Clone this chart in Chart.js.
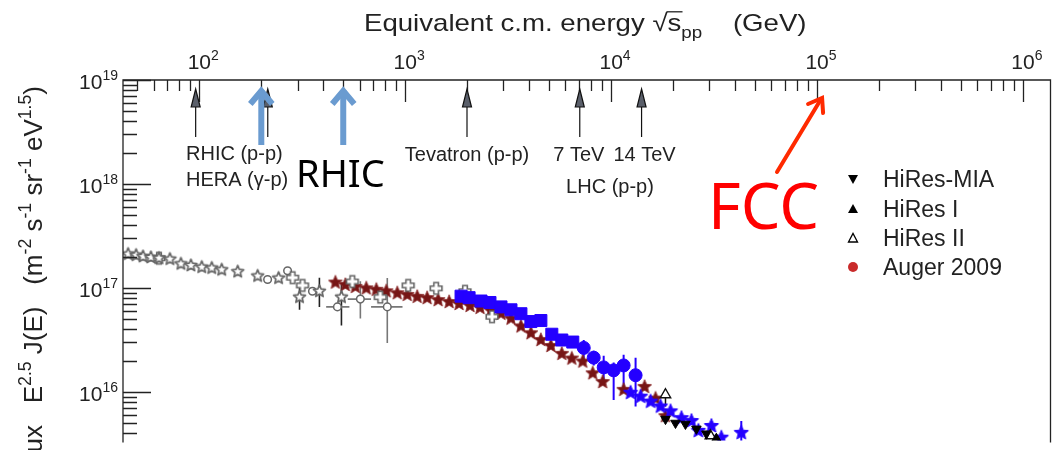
<!DOCTYPE html>
<html>
<head>
<meta charset="utf-8">
<script src="https://cdn.jsdelivr.net/npm/chart.js"></script>
<style>
html, body { margin: 0; padding: 0; background: #fff; }
#wrap { position: relative; width: 1060px; height: 450px; }
</style>
</head>
<body>
<div id="wrap"><canvas id="spectrum"></canvas></div>
<script>
// x: equivalent c.m. energy sqrt(s_pp) in GeV, y: E^2.5 J(E) flux
var grayStarE = [45.1, 49.3, 53.3, 58.2, 63.7, 72.0, 81.4, 91.0, 102.8, 115, 128.5, 153.6, 192, 242.7, 306.7, 383, 490];
var grayStarF = [2.11e17, 2.06e17, 2.00e17, 1.96e17, 1.93e17, 1.89e17, 1.70e17, 1.64e17, 1.58e17, 1.55e17, 1.49e17, 1.43e17, 1.30e17, 1.24e17, 8.14e16, 9.27e16, 8.14e16];
var grayStarLo = [null, null, null, null, null, null, null, null, null, null, null, null, null, null, 6.15e16, 6.56e16, 4.35e16];
var grayStarHi = [null, null, null, null, null, null, null, null, null, null, null, null, null, null, 1.01e17, 1.25e17, 1.08e17];

var grayCrossE = [63.7, 283.7, 317.2, 553.7, 756.6, 1034, 1413, 1952, 2639];
var grayCrossF = [1.93e17, 1.254e17, 1.056e17, 1.151e17, 8.14e16, 1.056e17, 9.89e16, 9.27e16, 5.28e16];

var grayCircE = [214.6, 268.3, 354.4, 468.4, 605.5, 818.2];
var grayCircF = [1.202e17, 1.460e17, 9.27e16, 6.56e16, 7.80e16, 6.56e16];
var grayCircELo = [null, null, null, 413, 525.6, 682.4];
var grayCircEHi = [null, null, null, 535.6, 682.4, 970];
var grayCircLo = [null, null, null, null, 5.06e16, 2.95e16];
var grayCircHi = [null, null, null, null, 1.158e17, 1.246e17];

var darkStarE = [458, 512, 573, 647, 724, 809, 915, 1023, 1143, 1278, 1445, 1634, 1826, 2064, 2308, 2609, 2917, 3262, 3646, 4076, 4557, 5093, 5759, 6438, 7278, 8137, 9096, 11500, 14530, 16430, 18360];
var darkStarF = [1.126e17, 1.067e17, 1.022e17, 9.89e16, 9.58e16, 9.27e16, 8.88e16, 8.56e16, 8.20e16, 7.97e16, 7.63e16, 7.31e16, 7.00e16, 6.71e16, 6.42e16, 6.02e16, 5.64e16, 5.06e16, 4.26e16, 3.66e16, 3.15e16, 2.76e16, 2.32e16, 2.09e16, 1.955e16, 1.508e16, 1.241e16, 1.044e16, 1.114e16, 8.60e15, 5.83e15];

var blueSqE = [1867, 2042, 2333, 2579, 2917, 3262, 3646, 4076, 4557, 5150, 5759, 6511];
var blueSqF = [8.32e16, 8.05e16, 7.47e16, 7.23e16, 6.56e16, 6.15e16, 5.64e16, 4.74e16, 4.85e16, 3.58e16, 3.15e16, 3.01e16];

var blueCircE = [7359, 8228, 9198, 10283, 11497, 13140];
var blueCircF = [2.646e16, 2.131e16, 1.717e16, 1.609e16, 1.793e16, 1.444e16];
var blueCircLo = [1.913e16, 1.793e16, 1.241e16, 8.32e15, 1.011e16, 7.23e15];
var blueCircHi = [3.15e16, 2.48e16, 2.225e16, 1.913e16, 2.274e16, 2.131e16];

var blueStarE = [12430, 13900, 15540, 17370, 19420, 21950, 24540, 26530, 30670, 34290, 42850];
var blueStarF = [9.79e15, 8.98e15, 8.05e15, 7.23e15, 6.49e15, 5.58e15, 5.23e15, 4.21e15, 4.69e15, 3.62e15, 4.03e15];
var blueStarLo = [null, null, null, null, null, null, null, null, null, null, 3.18e15];
var blueStarHi = [null, null, null, null, null, null, null, null, null, null, 5.23e15];

var miaE = [18360, 20530, 22950, 25940, 29000];
var miaF = [5.46e15, 5.01e15, 4.90e15, 4.40e15, 3.95e15];
var hires1E = [32430];
var hires1F = [3.54e15];
var hires2E = [18360, 30330];
var hires2F = [9.37e15, 3.78e15];
var hires2Lo = [7.23e15, null];
var hires2Hi = [1.067e16, null];

var xTickPowers = [2, 3, 4, 5, 6];
var yTickPowers = [16, 17, 18, 19];

// machines marked along the top axis
var machineE = [96, 215, 1995, 7040, 14050];
var rhicE = [200, 500];
var fccE = 1e5;

var legendNames = ['HiRes-MIA', 'HiRes I', 'HiRes II', 'Auger 2009'];

var FONT = '"Liberation Sans", Arial, sans-serif';

function pts(e, f) {
    var out = [];
    for (var i = 0; i < e.length; i++) out.push({x: e[i], y: f[i]});
    return out;
}

function starIcon(r, fill, stroke, lw) {
    var s = Math.ceil(2 * r + lw + 2);
    var c = document.createElement('canvas');
    c.width = c.height = s;
    var g = c.getContext('2d');
    g.translate(s / 2, s / 2);
    g.beginPath();
    for (var i = 0; i < 10; i++) {
        var rr = i % 2 ? r * 0.45 : r;
        var a = -Math.PI / 2 + i * Math.PI / 5;
        g.lineTo(rr * Math.cos(a), rr * Math.sin(a));
    }
    g.closePath();
    g.fillStyle = fill;
    g.fill();
    if (stroke) {
        g.lineWidth = lw;
        g.strokeStyle = stroke;
        g.lineJoin = 'round';
        g.stroke();
    }
    return c;
}

function plusIcon(a, w, fill, stroke) {
    var s = Math.ceil(2 * a + 4);
    var c = document.createElement('canvas');
    c.width = c.height = s;
    var g = c.getContext('2d');
    g.translate(s / 2, s / 2);
    var p = [[-w, -a], [w, -a], [w, -w], [a, -w], [a, w], [w, w], [w, a], [-w, a], [-w, w], [-a, w], [-a, -w], [-w, -w]];
    g.beginPath();
    p.forEach(function (q) { g.lineTo(q[0], q[1]); });
    g.closePath();
    g.fillStyle = fill;
    g.fill();
    g.lineWidth = 1.6;
    g.strokeStyle = stroke;
    g.stroke();
    return c;
}

var GRAY = '#666';
var BLUE = '#2400ff';
var MAROON = '#761515';

var errorBars = {
    id: 'errorBars',
    beforeDatasetsDraw: function (chart) {
        var ctx = chart.ctx, xs = chart.scales.x, ys = chart.scales.y;
        ctx.save();
        ctx.beginPath();
        ctx.rect(chart.chartArea.left, chart.chartArea.top, chart.chartArea.width, chart.chartArea.height);
        ctx.clip();
        chart.data.datasets.forEach(function (ds) {
            if (!ds.errLo && !ds.errXLo) return;
            ctx.strokeStyle = ds.errColor || '#333';
            ctx.lineWidth = ds.errWidth || 1.5;
            ds.data.forEach(function (p, i) {
                var px = xs.getPixelForValue(p.x), py = ys.getPixelForValue(p.y);
                ctx.beginPath();
                if (ds.errLo && ds.errLo[i] != null) {
                    ctx.moveTo(px, ys.getPixelForValue(ds.errLo[i]));
                    ctx.lineTo(px, ys.getPixelForValue(ds.errHi[i]));
                }
                if (ds.errXLo && ds.errXLo[i] != null) {
                    ctx.moveTo(xs.getPixelForValue(ds.errXLo[i]), py);
                    ctx.lineTo(xs.getPixelForValue(ds.errXHi[i]), py);
                }
                ctx.stroke();
            });
        });
        ctx.restore();
    }
};

// draws "10" with a raised exponent; align = 'center' (on the "10") or 'right'
function powerLabel(ctx, p, x, y, align) {
    ctx.font = '21px ' + FONT;
    var w10 = ctx.measureText('10').width;
    ctx.font = '14px ' + FONT;
    var wp = ctx.measureText(String(p)).width;
    var x0 = align === 'right' ? x - w10 - wp : x - w10 / 2;
    ctx.font = '21px ' + FONT;
    ctx.fillText('10', x0, y);
    ctx.font = '14px ' + FONT;
    ctx.fillText(String(p), x0 + w10, y - 9);
}

function drawRuns(ctx, runs, x, y, size) {
    runs.forEach(function (r) {
        var kind = r[1] || '';
        var fs = kind ? size * 0.68 : size;
        var dy = kind === 'sup' ? -size * 0.42 : (kind === 'sub' ? size * 0.3 : 0);
        ctx.font = fs + 'px ' + FONT;
        ctx.fillText(r[0], x, y + dy);
        x += ctx.measureText(r[0]).width;
    });
    return x;
}

function runsWidth(ctx, runs, size) {
    var w = 0;
    runs.forEach(function (r) {
        ctx.font = (r[1] ? size * 0.68 : size) + 'px ' + FONT;
        w += ctx.measureText(r[0]).width;
    });
    return w;
}

var frame = {
    id: 'frame',
    afterDatasetsDraw: function (chart) {
        var ctx = chart.ctx, a = chart.chartArea, xs = chart.scales.x, ys = chart.scales.y;
        ctx.save();
        ctx.strokeStyle = '#222';
        ctx.lineWidth = 1.3;
        ctx.beginPath();
        ctx.moveTo(a.left, a.bottom + 2);
        ctx.lineTo(a.left, a.top);
        ctx.lineTo(a.right, a.top);
        ctx.lineTo(a.right, a.bottom + 2);
        ctx.stroke();

        ctx.beginPath();
        for (var p = 1; p <= 6; p++) {
            for (var k = 1; k < 10; k++) {
                var v = k * Math.pow(10, p);
                if (v < xs.min || v > xs.max) continue;
                var px = Math.round(xs.getPixelForValue(v)) + 0.5;
                ctx.moveTo(px, a.top);
                ctx.lineTo(px, a.top + (k === 1 ? 22 : 11));
            }
        }
        for (var q = 15; q <= 19; q++) {
            for (var m = 1; m < 10; m++) {
                var u = m * Math.pow(10, q);
                if (u < ys.min || u > ys.max) continue;
                var py = Math.round(ys.getPixelForValue(u)) + 0.5;
                ctx.moveTo(a.left, py);
                ctx.lineTo(a.left + (m === 1 ? 28 : 14), py);
            }
        }
        ctx.stroke();

        ctx.fillStyle = '#222';
        ctx.textBaseline = 'alphabetic';
        xTickPowers.forEach(function (p) {
            powerLabel(ctx, p, xs.getPixelForValue(Math.pow(10, p)), 69, 'center');
        });
        yTickPowers.forEach(function (p) {
            powerLabel(ctx, p, 118, ys.getPixelForValue(Math.pow(10, p)) + 9, 'right');
        });

        // top axis title, drawn slightly widened
        var size = 24;
        ctx.save();
        ctx.translate(364, 31);
        ctx.scale(1.15, 1);
        var x = drawRuns(ctx, [['Equivalent c.m. energy ', ''], ['\u221a', '']], 0, 0, size);
        var x1 = drawRuns(ctx, [['s', '']], x, 0, size);
        ctx.lineWidth = 1.3;
        ctx.beginPath();
        ctx.moveTo(x - 1, -size * 0.8);
        ctx.lineTo(x1 + 1, -size * 0.8);
        ctx.stroke();
        drawRuns(ctx, [['pp', 'sub'], ['    (GeV)', '']], x1, 0, size);
        ctx.restore();

        // rotated flux title, ending near the top of the axis
        var ts = 26;
        var runs = [['Flux   E', ''], ['2.5', 'sup'], [' J(E)   (m', ''], ['-2', 'sup'], [' s', ''], ['-1', 'sup'],
            [' sr', ''], ['-1', 'sup'], [' eV', ''], ['1.5', 'sup'], [')', '']];
        var w = runsWidth(ctx, runs, ts);
        ctx.save();
        ctx.translate(42, 86 + w);
        ctx.rotate(-Math.PI / 2);
        drawRuns(ctx, runs, 0, 0, ts);
        ctx.restore();
        ctx.restore();
    }
};

function arrowHead(ctx, x, tip, len, half) {
    ctx.beginPath();
    ctx.moveTo(x, tip);
    ctx.lineTo(x + half, tip + len);
    ctx.lineTo(x - half, tip + len);
    ctx.closePath();
    ctx.fill();
    ctx.stroke();
}

var notes = {
    id: 'notes',
    afterDraw: function (chart) {
        var ctx = chart.ctx, xs = chart.scales.x, a = chart.chartArea;
        ctx.save();

        // accelerator arrows
        ctx.strokeStyle = '#111';
        ctx.fillStyle = '#5a5f6a';
        ctx.lineWidth = 1.2;
        machineE.forEach(function (e) {
            var px = xs.getPixelForValue(e);
            ctx.beginPath();
            ctx.moveTo(px, a.top + 20);
            ctx.lineTo(px, a.top + 57);
            ctx.stroke();
            arrowHead(ctx, px, a.top + 9, 18, 4.5);
        });

        ctx.fillStyle = '#222';
        ctx.font = '20px ' + FONT;
        ctx.textAlign = 'left';
        ctx.fillText('RHIC (p-p)', 186, 160);
        ctx.fillText('HERA (\u03b3-p)', 186, 186);
        ctx.textAlign = 'center';
        ctx.fillText('Tevatron (p-p)', xs.getPixelForValue(machineE[2]), 161);
        ctx.fillText('7 TeV', xs.getPixelForValue(machineE[3]) - 1, 161);
        ctx.fillText('14 TeV', xs.getPixelForValue(machineE[4]) + 3, 161);
        ctx.fillText('LHC (p-p)', 610, 193);

        // RHIC energies
        ctx.strokeStyle = '#6a9bd0';
        ctx.lineWidth = 6;
        ctx.lineCap = 'butt';
        ctx.lineJoin = 'miter';
        rhicE.forEach(function (e) {
            var px = xs.getPixelForValue(e);
            ctx.beginPath();
            ctx.moveTo(px, a.top + 10);
            ctx.lineTo(px, 145);
            ctx.stroke();
            ctx.beginPath();
            ctx.moveTo(px - 11, a.top + 24);
            ctx.lineTo(px, a.top + 11);
            ctx.lineTo(px + 11, a.top + 24);
            ctx.stroke();
        });
        ctx.fillStyle = '#000';
        ctx.textAlign = 'left';
        ctx.font = '38px "Noto Sans", sans-serif';
        ctx.fillText('RHIC', 296, 187);

        // FCC pointer to 100 TeV
        var fx = xs.getPixelForValue(fccE);
        ctx.strokeStyle = '#ff2a00';
        ctx.lineWidth = 4;
        ctx.lineCap = 'round';
        ctx.beginPath();
        ctx.moveTo(777, 172);
        ctx.lineTo(fx + 4, a.top + 19);
        ctx.stroke();
        ctx.beginPath();
        ctx.moveTo(fx - 9, a.top + 24);
        ctx.lineTo(fx + 5, a.top + 18);
        ctx.lineTo(fx + 6, a.top + 33);
        ctx.stroke();
        ctx.fillStyle = '#ff0000';
        ctx.font = '63px "Noto Sans", sans-serif';
        ctx.fillText('FCC', 708, 229);

        // legend
        var rows = [179, 209, 238, 267];
        ctx.lineWidth = 1.3;
        ctx.lineCap = 'butt';
        ctx.fillStyle = '#000';
        ctx.strokeStyle = '#000';
        ctx.beginPath();
        ctx.moveTo(848, rows[0] - 4); ctx.lineTo(858, rows[0] - 4); ctx.lineTo(853, rows[0] + 5); ctx.closePath();
        ctx.fill();
        ctx.beginPath();
        ctx.moveTo(848, rows[1] + 4); ctx.lineTo(858, rows[1] + 4); ctx.lineTo(853, rows[1] - 5); ctx.closePath();
        ctx.fill();
        ctx.beginPath();
        ctx.moveTo(848.5, rows[2] + 4); ctx.lineTo(857.5, rows[2] + 4); ctx.lineTo(853, rows[2] - 4.5); ctx.closePath();
        ctx.stroke();
        ctx.fillStyle = '#c92a2a';
        ctx.beginPath();
        ctx.arc(853, rows[3], 5, 0, Math.PI * 2);
        ctx.fill();

        ctx.fillStyle = '#222';
        ctx.font = '23px ' + FONT;
        legendNames.forEach(function (n, i) {
            ctx.fillText(n, 883, rows[i] + 8);
        });
        ctx.restore();
    }
};

new Chart(document.getElementById('spectrum'), {
    type: 'scatter',
    data: {
        datasets: [
            {
                label: 'HiRes-MIA', data: pts(miaE, miaF), order: 0,
                pointStyle: 'triangle', rotation: 180, pointRadius: 5.5,
                backgroundColor: '#000', borderColor: '#000', borderWidth: 1
            },
            {
                label: 'HiRes I', data: pts(hires1E, hires1F), order: 0,
                pointStyle: 'triangle', pointRadius: 5.5,
                backgroundColor: '#000', borderColor: '#000', borderWidth: 1
            },
            {
                label: 'HiRes II', data: pts(hires2E, hires2F), order: 0,
                pointStyle: 'triangle', pointRadius: 6,
                backgroundColor: '#fff', borderColor: '#111', borderWidth: 1.4,
                errLo: hires2Lo, errHi: hires2Hi, errColor: '#111'
            },
            {
                label: 'Auger 2009', data: [], order: 0,
                pointStyle: 'circle', pointRadius: 5, backgroundColor: '#c92a2a'
            },
            {
                label: 'blue squares', data: pts(blueSqE, blueSqF), order: 1,
                pointStyle: 'rect', pointRadius: 8.5,
                backgroundColor: BLUE, borderColor: BLUE, borderWidth: 1
            },
            {
                label: 'blue circles', data: pts(blueCircE, blueCircF), order: 1,
                pointStyle: 'circle', pointRadius: 6.5,
                backgroundColor: BLUE, borderColor: BLUE, borderWidth: 1,
                errLo: blueCircLo, errHi: blueCircHi, errColor: BLUE, errWidth: 2
            },
            {
                label: 'blue stars', data: pts(blueStarE, blueStarF), order: 1,
                pointStyle: starIcon(7.5, BLUE, BLUE, 1), pointRadius: 6,
                errLo: blueStarLo, errHi: blueStarHi, errColor: BLUE, errWidth: 2
            },
            {
                label: 'gray stars', data: pts(grayStarE, grayStarF), order: 2,
                pointStyle: starIcon(6.3, '#fff', GRAY, 1.7), pointRadius: 5,
                errLo: grayStarLo, errHi: grayStarHi, errColor: '#222', errWidth: 1.6
            },
            {
                label: 'gray crosses', data: pts(grayCrossE, grayCrossF), order: 2,
                pointStyle: plusIcon(5.8, 2.3, '#fff', GRAY), pointRadius: 5
            },
            {
                label: 'gray circles', data: pts(grayCircE, grayCircF), order: 2,
                pointStyle: 'circle', pointRadius: 3.8,
                backgroundColor: '#fff', borderColor: GRAY, borderWidth: 1.5,
                errLo: grayCircLo, errHi: grayCircHi, errXLo: grayCircELo, errXHi: grayCircEHi,
                errColor: '#777', errWidth: 1.6
            },
            {
                label: 'dark red stars', data: pts(darkStarE, darkStarF), order: 3,
                pointStyle: starIcon(7.3, MAROON, '#8a2a2a', 0.8), pointRadius: 6
            }
        ]
    },
    options: {
        responsive: true,
        maintainAspectRatio: false,
        animation: false,
        layout: {padding: {left: 123, top: 80, right: 7, bottom: 0}},
        plugins: {
            legend: {display: false},
            tooltip: {enabled: false}
        },
        scales: {
            x: {type: 'logarithmic', min: 42.6, max: 1.36e6, display: false},
            y: {type: 'logarithmic', min: 3.4e15, max: 1e19, display: false}
        }
    },
    plugins: [errorBars, frame, notes]
});
</script>
</body>
</html>
